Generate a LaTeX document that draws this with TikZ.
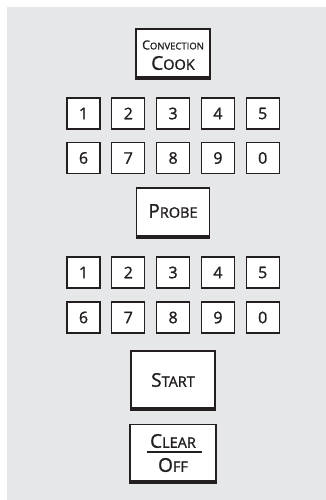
\documentclass[tikz,border=0pt]{standalone}
\usepackage{fontspec}
\setmainfont{Open Sans}
\newfontfamily\btnfont{Open Sans}[FakeBold=1.3]
\definecolor{panelbg}{HTML}{E6E7E8}
\definecolor{ink}{HTML}{231F20}
\newcommand\bigfs{\fontsize{19}{19}\selectfont}
\newcommand\smfs{\fontsize{14.5}{14.5}\selectfont}
\newcommand\capsc[2]{{\bigfs #1}{\smfs #2}}
\begin{document}
\begin{tikzpicture}[x=1pt,y=-1pt,
  keybox/.style={draw=ink, fill=white, line width=1.3pt, minimum width=33pt,
    minimum height=31pt, inner sep=0pt, text=ink, font=\btnfont\fontsize{16}{16}\selectfont},
  btnbox/.style={draw=ink, fill=white, line width=1.3pt, inner sep=0pt},
  btntext/.style={inner sep=0pt, text=ink, font=\btnfont},
  bar/.style={draw=ink, line width=3.5pt},
  rule/.style={draw=ink, line width=1.3pt}]
\useasboundingbox (0,0) rectangle (326,500);
\fill[panelbg] (7,7) rectangle (326,500);

% Convection Cook
\node[btnbox, minimum width=74pt, minimum height=50pt] (cc) at (173,54) {};
\draw[bar] ([yshift=2pt]cc.south west) -- ([yshift=2pt]cc.south east);
\node[btntext] (cct1) at (173,45) {\capsc{\fontsize{12.5}{12.5}\selectfont C}{\fontsize{9.5}{9.5}\selectfont ONVECTION}};
\node[btntext] (cct2) at (173,63) {\capsc{C}{OOK}};

% keypad 1
\foreach \d [count=\i from 0] in {1,2,3,4,5} {
  \node[keybox] (ka\d) at (83.5+44.8*\i,113.5) {\d};
}
\foreach \d [count=\i from 0] in {6,7,8,9,0} {
  \node[keybox] (kb\d) at (83.5+44.8*\i,158) {\d};
}

% Probe
\node[btnbox, minimum width=73pt, minimum height=50pt] (pr) at (173,213) {};
\draw[bar] ([yshift=2pt]pr.south west) -- ([yshift=2pt]pr.south east);
\node[btntext] (prt) at (173,211) {\capsc{P}{ROBE}};

% keypad 2
\foreach \d [count=\i from 0] in {1,2,3,4,5} {
  \node[keybox] (kc\d) at (83.5+44.8*\i,272.5) {\d};
}
\foreach \d [count=\i from 0] in {6,7,8,9,0} {
  \node[keybox] (kd\d) at (83.5+44.8*\i,317.5) {\d};
}

% Start
\node[btnbox, minimum width=84pt, minimum height=59pt] (st) at (173,380.5) {};
\draw[bar] ([yshift=2pt]st.south west) -- ([yshift=2pt]st.south east);
\node[btntext] (stt) at (173,380) {\capsc{S}{TART}};

% Clear / Off
\node[btnbox, minimum width=86pt, minimum height=59pt] (cl) at (173,454) {};
\draw[bar] ([yshift=2pt]cl.south west) -- ([yshift=2pt]cl.south east);
\node[btntext] (clt) at (173,441) {\capsc{C}{LEAR}};
\node[btntext] (oft) at (173,465) {\capsc{O}{FF}};
\coordinate (rl) at (147,452);
\coordinate (rr) at (202,452);
\draw[rule] (rl) -- (rr);
\end{tikzpicture}
\end{document}
